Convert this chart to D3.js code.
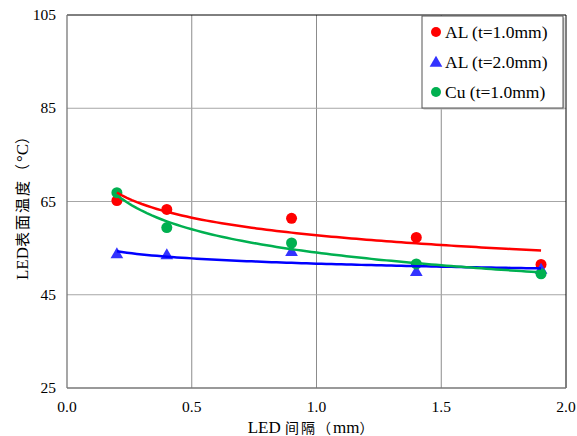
<html><head>
<meta charset="UTF-8">
<script src="https://cdn.jsdelivr.net/npm/d3@7"></script>
<style>
  body { margin: 0; background: #fff; }
</style>
</head>
<body>
<div id="chart"></div>
<script>
  // spacing values (mm)
  const spacing = [0.2, 0.4, 0.9, 1.4, 1.9];
  // surface temperatures
  const al10 = [65.2, 63.3, 61.4, 57.3, 51.5];
  const al20 = [53.6, 53.4, 54.1, 49.8, 50.3];
  const cu10 = [66.9, 59.4, 56.1, 51.6, 49.5];

  const seriesNames = ["AL (t=1.0mm)", "AL (t=2.0mm)", "Cu (t=1.0mm)"];
  const xTicks = [0, 0.5, 1.0, 1.5, 2.0];
  const yTicks = [25, 45, 65, 85, 105];

  const series = [
    {name: seriesNames[0], values: al10, color: "#ff0000", line: "#ff0000", shape: "circle"},
    {name: seriesNames[1], values: al20, color: "#3333ff", line: "#0000ff", shape: "triangle"},
    {name: seriesNames[2], values: cu10, color: "#00b050", line: "#00b050", shape: "circle"}
  ];

  const width = 577, height = 436;
  const margin = {left: 67, right: 11, top: 15, bottom: 48};
  const SERIF = "Times New Roman";
  const CJK = "Noto Sans CJK SC";

  const svg = d3.select("#chart").append("svg")
    .attr("width", width)
    .attr("height", height);

  const x = d3.scaleLinear().domain([0, 2]).range([margin.left, width - margin.right]);
  const y = d3.scaleLinear().domain([25, 105]).range([height - margin.bottom, margin.top]);

  // grid
  svg.append("g").selectAll("line")
    .data(xTicks.slice(1, -1))
    .enter().append("line")
    .attr("x1", d => x(d)).attr("x2", d => x(d))
    .attr("y1", y(25)).attr("y2", y(105))
    .attr("stroke", "#8c8c8c").attr("stroke-width", 1);

  svg.append("g").selectAll("line")
    .data(yTicks.slice(1, -1))
    .enter().append("line")
    .attr("x1", x(0)).attr("x2", x(2))
    .attr("y1", d => y(d)).attr("y2", d => y(d))
    .attr("stroke", "#a6a6a6").attr("stroke-width", 1);

  // frame: black top/right, grey axes
  svg.append("line").attr("x1", x(0)).attr("x2", x(2)).attr("y1", y(105)).attr("y2", y(105))
    .attr("stroke", "#000").attr("stroke-width", 1);
  svg.append("line").attr("x1", x(2)).attr("x2", x(2)).attr("y1", y(105)).attr("y2", y(25))
    .attr("stroke", "#000").attr("stroke-width", 1);
  svg.append("line").attr("x1", x(0)).attr("x2", x(0)).attr("y1", y(105)).attr("y2", y(25))
    .attr("stroke", "#777").attr("stroke-width", 1.3);
  svg.append("line").attr("x1", x(0)).attr("x2", x(2)).attr("y1", y(25)).attr("y2", y(25))
    .attr("stroke", "#777").attr("stroke-width", 1.3);

  // tick labels
  svg.append("g").selectAll("text")
    .data(yTicks)
    .enter().append("text")
    .attr("x", x(0) - 11)
    .attr("y", d => y(d) + 5)
    .attr("text-anchor", "end")
    .attr("font-size", 15.5)
    .style("font-family", SERIF)
    .text(d => d);

  svg.append("g").selectAll("text")
    .data(xTicks)
    .enter().append("text")
    .attr("x", d => x(d))
    .attr("y", y(25) + 24)
    .attr("text-anchor", "middle")
    .attr("font-size", 15.5)
    .style("font-family", SERIF)
    .text(d => d.toFixed(1));

  // axis titles
  const yTitle = svg.append("text")
    .attr("transform", `translate(28,${y(65) + 3}) rotate(-90)`)
    .attr("text-anchor", "middle")
    .attr("font-size", 17)
    .style("font-family", SERIF);
  yTitle.append("tspan").text("LED");
  yTitle.append("tspan").attr("font-size", 15).attr("letter-spacing", 2).style("font-family", CJK).text("表面温度（");
  yTitle.append("tspan").text("°C");
  yTitle.append("tspan").attr("font-size", 15).style("font-family", CJK).text("）");

  const xTitle = svg.append("text")
    .attr("x", x(1) - 6)
    .attr("y", height - 3)
    .attr("text-anchor", "middle")
    .attr("font-size", 17)
    .style("font-family", SERIF);
  xTitle.append("tspan").text("LED ");
  xTitle.append("tspan").attr("font-size", 14).attr("letter-spacing", 2).style("font-family", CJK).text("间隔（");
  xTitle.append("tspan").text("mm");
  xTitle.append("tspan").attr("font-size", 14).style("font-family", CJK).text("）");

  // power trendline (least squares in log-log space, like a spreadsheet power fit)
  function powerFit(xs, ys) {
    const lx = xs.map(Math.log), ly = ys.map(Math.log);
    const mx = d3.mean(lx), my = d3.mean(ly);
    const b = d3.sum(lx, (v, i) => (v - mx) * (ly[i] - my)) / d3.sum(lx, v => (v - mx) * (v - mx));
    const a = Math.exp(my - b * mx);
    return t => a * Math.pow(t, b);
  }

  const triangle = d3.symbol().type(d3.symbolTriangle).size(70);

  series.forEach(s => {
    const g = svg.append("g");
    const pts = spacing.map((v, i) => ({x: v, y: s.values[i]}));
    if (s.shape === "circle") {
      g.selectAll("circle").data(pts).enter().append("circle")
        .attr("cx", d => x(d.x)).attr("cy", d => y(d.y)).attr("r", 5.5)
        .attr("fill", s.color);
    } else {
      g.selectAll("path").data(pts).enter().append("path")
        .attr("d", triangle)
        .attr("transform", d => `translate(${x(d.x)},${y(d.y)})`)
        .attr("fill", s.color);
    }
  });

  series.forEach(s => {
    const f = powerFit(spacing, s.values);
    const xs = d3.range(spacing[0], spacing[spacing.length - 1] + 0.001, 0.02);
    svg.append("path")
      .datum(xs)
      .attr("fill", "none")
      .attr("stroke", s.line)
      .attr("stroke-width", 2.5)
      .attr("d", d3.line().x(d => x(d)).y(d => y(f(d))));
  });

  // legend
  const lg = svg.append("g").attr("transform", "translate(422,16)");
  lg.append("rect").attr("x", 1.5).attr("y", 1.5).attr("width", 141).attr("height", 92)
    .attr("fill", "#bbb");
  lg.append("rect").attr("width", 141).attr("height", 92)
    .attr("fill", "#fff").attr("stroke", "#555").attr("stroke-width", 1);

  series.forEach((s, i) => {
    const cy = 16 + i * 30;
    if (s.shape === "circle") {
      lg.append("circle").attr("cx", 14).attr("cy", cy).attr("r", 5).attr("fill", s.color);
    } else {
      lg.append("path").attr("d", triangle).attr("transform", `translate(14,${cy + 1})`).attr("fill", s.color);
    }
    lg.append("text").attr("x", 23).attr("y", cy + 6)
      .attr("font-size", 17.5).style("font-family", SERIF).text(s.name);
  });
</script>
</body>
</html>
